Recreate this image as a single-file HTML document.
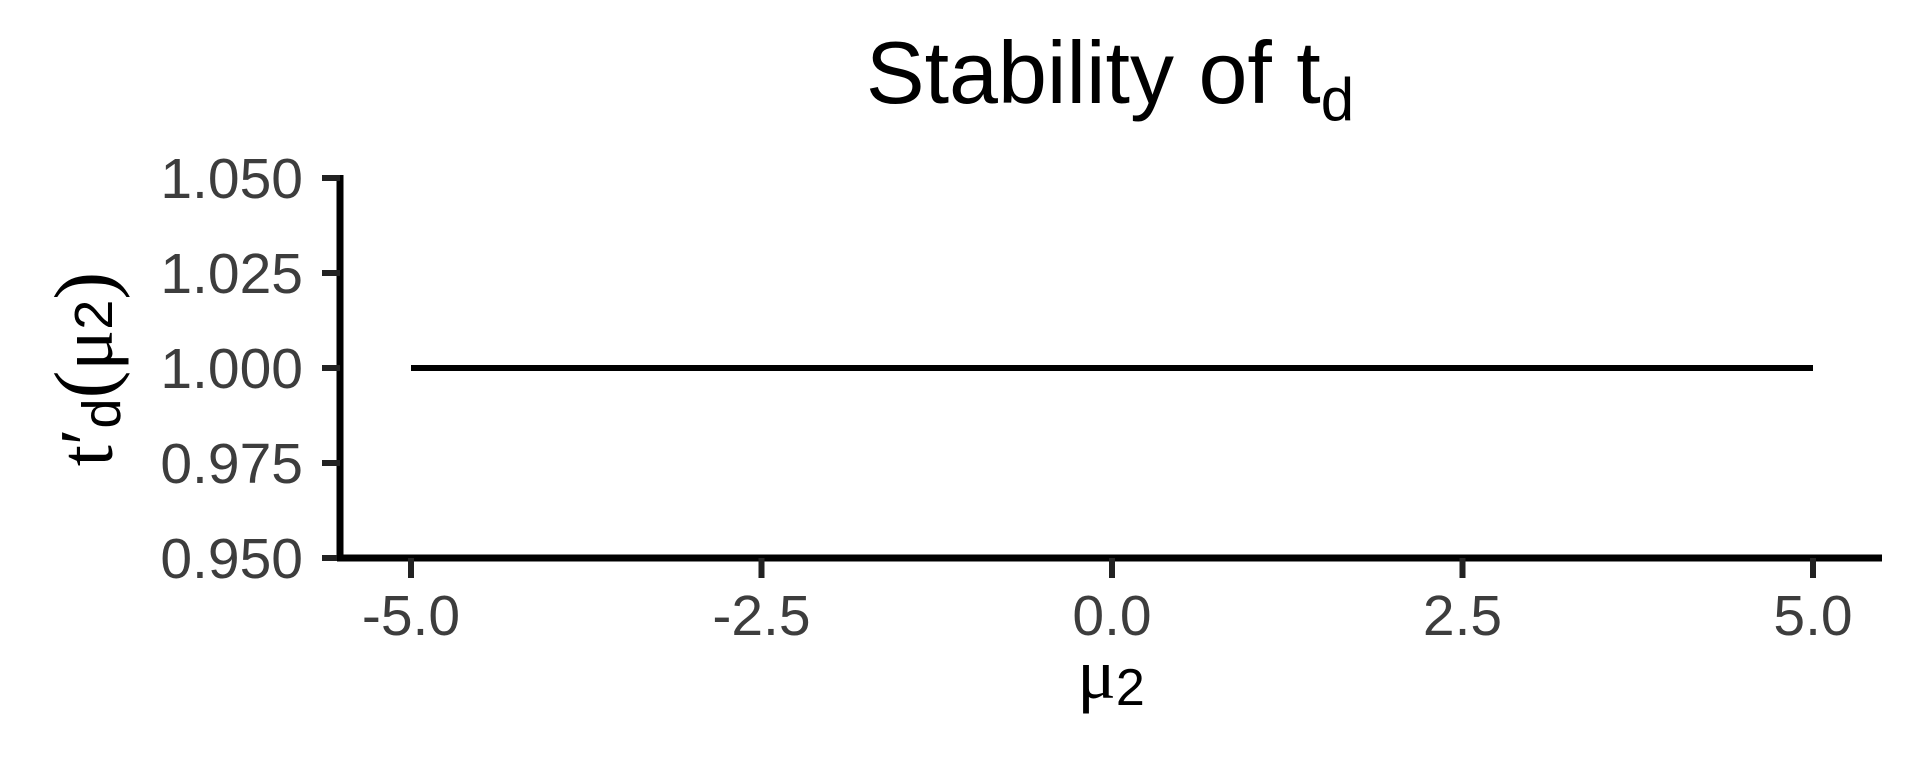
<!DOCTYPE html>
<html><head><meta charset="utf-8"><style>
html,body{margin:0;padding:0;background:#fff;}
svg{display:block;font-family:"Liberation Sans",Arial,sans-serif;}
</style></head><body>
<svg id="chart" width="1920" height="768" viewBox="0 0 1920 768">
  <text x="1110" y="103" text-anchor="middle" font-size="88" fill="#000">Stability of t<tspan font-size="60" dy="17">d</tspan></text>
  <g id="yticks"></g>
  <g id="xticks"></g>
  <g id="series"></g>
  <text x="1111" y="698" text-anchor="middle" font-size="72" fill="#000" font-family="'Liberation Serif',serif">μ<tspan font-family="'Liberation Sans',sans-serif" font-size="52" dy="7">2</tspan></text>
  <text transform="translate(112,369) rotate(-90)" text-anchor="middle" font-size="76" fill="#000" font-family="'Liberation Serif',serif">t′<tspan font-family="'Liberation Sans',sans-serif" font-size="54" dy="8">d</tspan><tspan dy="-8" font-size="84">(</tspan>μ<tspan font-family="'Liberation Sans',sans-serif" font-size="54">2</tspan><tspan font-size="84">)</tspan></text>
</svg>
<script>
const xTicks = [-5.0, -2.5, 0.0, 2.5, 5.0];
const xTickLabels = ["-5.0", "-2.5", "0.0", "2.5", "5.0"];
const yTicks = [0.950, 0.975, 1.000, 1.025, 1.050];
const yTickLabels = ["0.950", "0.975", "1.000", "1.025", "1.050"];
const seriesX = [-5.0, -2.5, 0.0, 2.5, 5.0];
const seriesY = [1.0, 1.0, 1.0, 1.0, 1.0];

const NS = "http://www.w3.org/2000/svg";
const X0 = 411, X1 = 1813, Y0 = 558, Y1 = 178;
function sx(v){ return X0 + (v - (-5)) / 10 * (X1 - X0); }
function sy(v){ return Y0 - (v - 0.95) / 0.1 * (Y0 - Y1); }
function mk(tag, attrs, parent){ const e = document.createElementNS(NS, tag); for (const k in attrs) e.setAttribute(k, attrs[k]); parent.appendChild(e); return e; }

const yg = document.getElementById('yticks');
const xg = document.getElementById('xticks');
const sg = document.getElementById('series');

const yLine = mk('line', {x1:340, y1:sy(1.05)-3, x2:340, y2:Y0+3, stroke:'#000', 'stroke-width':7}, yg);


const xLine = mk('line', {x1:337, y1:Y0, x2:1882, y2:Y0, stroke:'#000', 'stroke-width':7}, xg);



yTicks.forEach((v, i) => {
  const y = sy(v);
  const t = mk('line', {x1:322, y1:y, x2:340, y2:y, stroke:'#222', 'stroke-width':6}, yg);
  
  
  const l = mk('text', {x:303, y:y+20, 'text-anchor':'end', 'font-size':57, fill:'#3d3d3d'}, yg);
  l.textContent = yTickLabels[i];
  
  
});
xTicks.forEach((v, i) => {
  const x = sx(v);
  const t = mk('line', {x1:x, y1:Y0, x2:x, y2:578, stroke:'#222', 'stroke-width':6}, xg);
  
  
  const l = mk('text', {x:x, y:635, 'text-anchor':'middle', 'font-size':57, fill:'#3d3d3d'}, xg);
  l.textContent = xTickLabels[i];
  
  
});
const pts = seriesX.map((x, i) => sx(x) + ',' + sy(seriesY[i])).join(' ');
const pl = mk('polyline', {points:pts, fill:'none', stroke:'#000', 'stroke-width':6}, sg);


</script>
</body></html>
